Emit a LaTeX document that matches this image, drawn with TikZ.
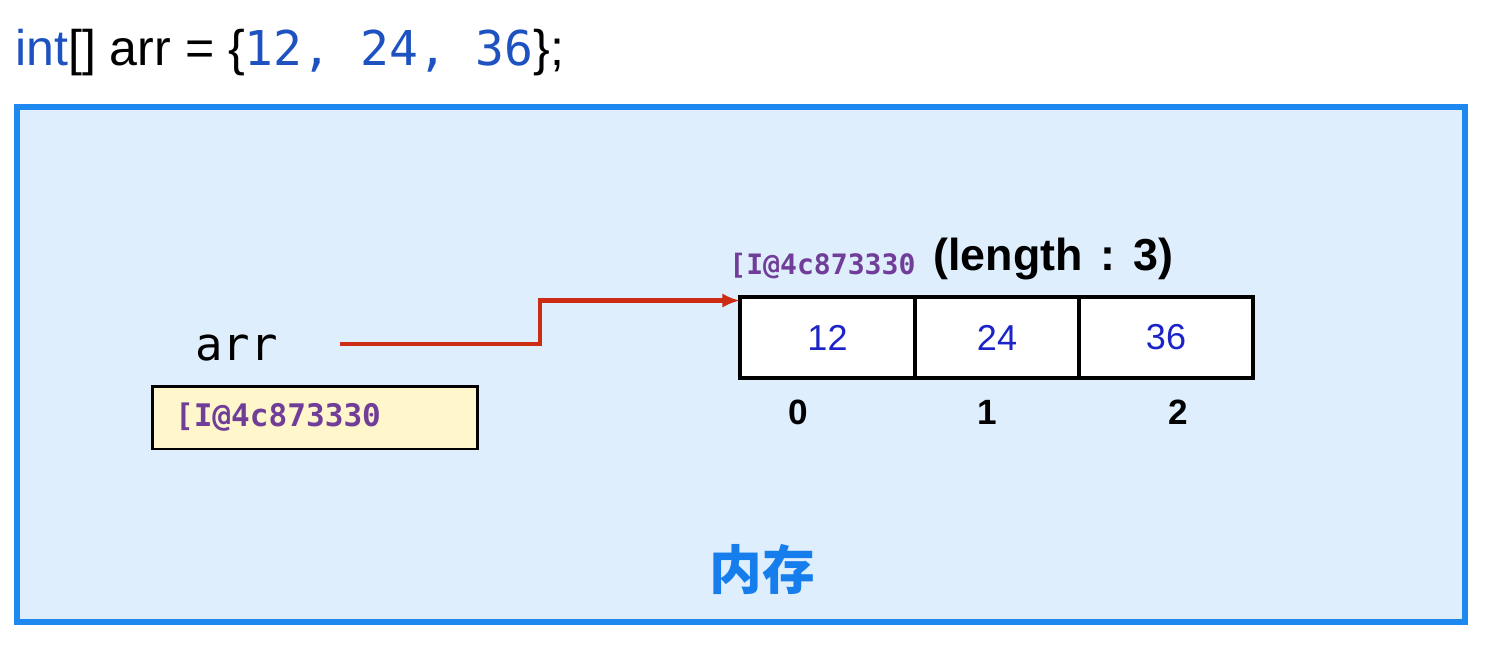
\documentclass[tikz,border=0pt]{standalone}
\usepackage{fontspec}
\usepackage{xcolor}
\usepackage{tikz}
\usetikzlibrary{arrows.meta, positioning, calc}
\setmainfont{Liberation Sans}
\newfontfamily\codefont{DejaVu Sans Mono}
\newfontfamily\cjk{Noto Sans CJK SC}
\definecolor{memblue}{RGB}{28, 136, 240}
\definecolor{memfill}{RGB}{223, 238, 253}
\definecolor{memtext}{RGB}{22, 126, 236}
\definecolor{kwblue}{RGB}{30, 82, 192}
\definecolor{valblue}{RGB}{28, 36, 200}
\definecolor{addrpurple}{RGB}{112, 62, 152}
\definecolor{ptrred}{RGB}{204, 44, 20}
\definecolor{slotyellow}{RGB}{255, 246, 204}

\tikzset{
    cellbox/.style={draw=black, line width=2.6pt, fill=white, inner sep=0pt, outer sep=0pt,
        minimum height=1.62cm, text=valblue, font=\fontsize{20.5}{24}\selectfont},
    idxlabel/.style={font=\bfseries\fontsize{20}{24}\selectfont, inner sep=0pt},
    addrtext/.style={text=addrpurple, inner sep=0pt},
    slotbox/.style={draw=black, line width=1.7pt, fill=slotyellow, align=left,
        inner xsep=0.46cm, text width=5.6cm, minimum height=1.26cm,
        text=addrpurple, font=\codefont\bfseries\fontsize{17.7}{20}\selectfont}
}

\begin{document}
\begin{tikzpicture}[x=0.02cm, y=-0.02cm]
        \useasboundingbox (0,0) rectangle (1486,659);

        % Declaration
        \node[anchor=base west, inner sep=0pt, font=\fontsize{28.5}{32}\selectfont] (decl) at (15,65)
            {\textcolor{kwblue}{int}[] arr = \{{\codefont\fontsize{27.3}{30}\selectfont\color{kwblue}12, 24, 36}\};};

        % Memory area
        \draw[memblue, line width=3.4pt, fill=memfill] (17,107) rectangle (1465,622);
        \node[text=memtext, font=\cjk\bfseries\fontsize{30}{34}\selectfont, inner sep=0pt] (mem) at (762,569) {内存};

        % Variable
        \node[anchor=base west, inner sep=0pt, font=\codefont\fontsize{26}{30}\selectfont] (var) at (195,360) {arr};
        \node[slotbox] (slot) at (315,417.5) {[I@4c873330};

        % Array
        \node[cellbox, minimum width=3.5cm] (c0) at (827.5,337.5) {12};
        \node[cellbox, minimum width=3.28cm] (c1) at (997,337.5) {24};
        \node[cellbox, minimum width=3.48cm] (c2) at (1166,337.5) {36};
        \node[addrtext, anchor=base west, font=\codefont\bfseries\fontsize{16}{18}\selectfont] (haddr) at (729,274) {[I@4c873330};
        \node[anchor=base west, inner sep=0pt, font=\bfseries\fontsize{25.5}{28}\selectfont] (len) at (933,270)
            {(length\hspace{0.4em}:\hspace{0.4em}3)};

        % Indices
        \node[idxlabel] (i0) at (798,412) {0};
        \node[idxlabel] (i1) at (987,412) {1};
        \node[idxlabel] (i2) at (1178,412) {2};

        % Reference
        \coordinate (ptr) at (340,344);
        \draw[ptrred, line width=2.8pt, -{Latex[length=10pt, width=8pt]}]
            (ptr) -- ++(200,0) |- ([yshift=-2pt]c0.north west);
    \end{tikzpicture}
\end{document}
